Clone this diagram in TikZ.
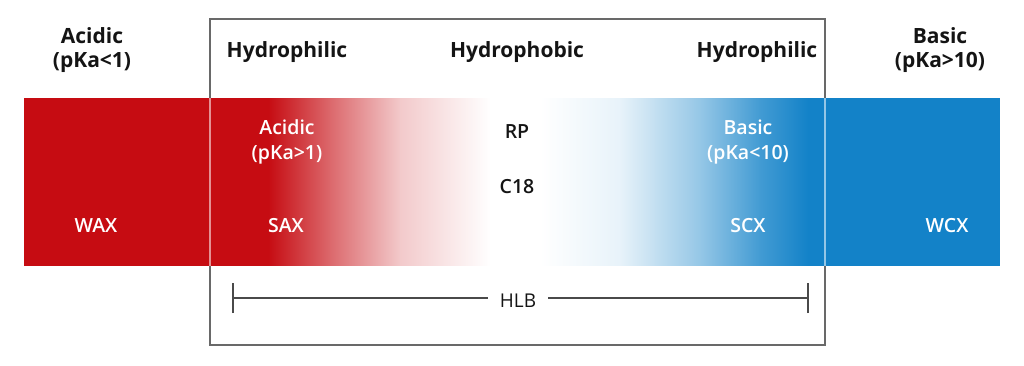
\documentclass[tikz,border=0pt]{standalone}
\usepackage{fontspec}
\setmainfont{Open Sans}
\IfFontExistsTF{Open Sans SemiBold}{\newfontfamily\semib{Open Sans SemiBold}}{%
  \IfFontExistsTF{Open Sans Semibold}{\newfontfamily\semib{Open Sans Semibold}}{%
    \newfontfamily\semib{Open Sans}[FakeBold=1.2]}}
\definecolor{acred}{RGB}{198,12,18}
\definecolor{bablue}{RGB}{19,130,200}
\definecolor{boxgray}{RGB}{105,105,105}
\definecolor{txt}{RGB}{20,20,20}
\begin{document}
\begin{tikzpicture}[x=1pt,y=-1pt,
  head/.style={font=\fontsize{21}{24}\selectfont\bfseries, text=txt, align=center, inner sep=0pt, anchor=base},
  inw/.style={font=\fontsize{19.5}{25}\selectfont\semib, text=white, align=center, inner sep=0pt, anchor=base},
  ink/.style={font=\fontsize{19.5}{25}\selectfont\semib, text=txt, align=center, inner sep=0pt, anchor=base},
  hlbst/.style={font=\fontsize{19}{25}\selectfont, text=txt, inner sep=0pt, anchor=base},
  rule/.style={draw=boxgray!70!black, line width=1.3pt}]
\useasboundingbox (0,0) rectangle (1024,365);
% outer box
\draw[boxgray, line width=1.4pt] (210,19) rectangle (825,345);
% band
\begin{scope}
\clip (24,98) rectangle (1000,265);
\fill[acred] (24,90) rectangle (268.5,270);
\shade[left color=acred, right color=acred!62!white] (268,90) rectangle (330.5,270);
\shade[left color=acred!62!white, right color=acred!22!white] (330,90) rectangle (400.5,270);
\shade[left color=acred!22!white, right color=white] (400,90) rectangle (490.5,270);
\shade[left color=white, right color=bablue!10!white] (540,90) rectangle (620.5,270);
\shade[left color=bablue!10!white, right color=bablue!45!white] (620,90) rectangle (700.5,270);
\shade[left color=bablue!45!white, right color=bablue!80!white] (700,90) rectangle (760.5,270);
\shade[left color=bablue!80!white, right color=bablue] (760,90) rectangle (808.5,270);
\fill[bablue] (808,90) rectangle (1000,270);
\draw[white, opacity=0.55, line width=1.2pt] (210,90) -- (210,270);
\draw[white, opacity=0.55, line width=1.2pt] (825,90) -- (825,270);
\end{scope}
% headers (base = baseline of last line)
\node[head] (acl) at (92,67) {Acidic\\(pKa<1)};
\node[head] (hyl) at (287,57) {Hydrophilic};
\node[head] (hyo) at (517,57) {Hydrophobic};
\node[head] (hyr) at (757,57) {Hydrophilic};
\node[head] (bar) at (940,67) {Basic\\(pKa>10)};
% inner labels
\node[inw] (acin) at (287,159) {Acidic\\(pKa>1)};
\node[ink] (rp) at (517,138) {RP};
\node[ink] (c18) at (517,193) {C18};
\node[inw] (bain) at (748,159) {Basic\\(pKa<10)};
\node[inw] (wax) at (96,232) {WAX};
\node[inw] (sax) at (286,232) {SAX};
\node[inw] (scx) at (748,232) {SCX};
\node[inw] (wcx) at (947,232) {WCX};
% HLB
\coordinate (hl) at (233,298);
\coordinate (hr) at (808,298);
\node[hlbst] (hlb) at (518,307) {HLB};
\draw[rule] (hl) -- ([xshift=-12pt]hlb.west |- hl);
\draw[rule] ([xshift=12pt]hlb.east |- hr) -- (hr);
\draw[rule] ([yshift=-15pt]hl) -- ([yshift=15pt]hl);
\draw[rule] ([yshift=-15pt]hr) -- ([yshift=15pt]hr);
\end{tikzpicture}
\end{document}
